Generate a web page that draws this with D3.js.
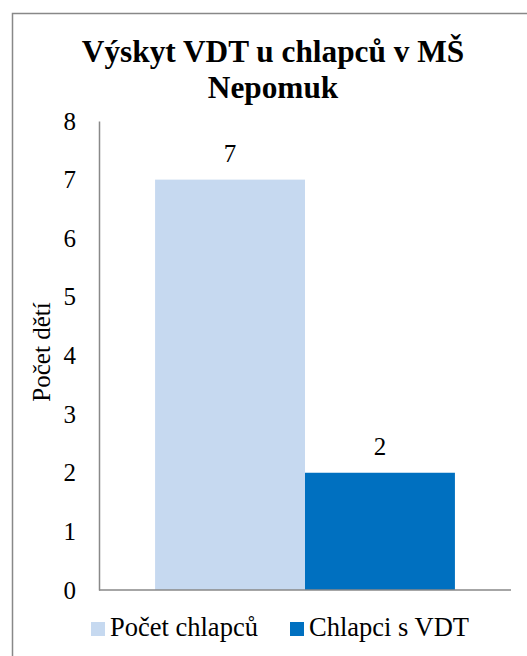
<!DOCTYPE html>
<html>
<head>
<meta charset="utf-8">
<script src="https://cdn.jsdelivr.net/npm/d3@7"></script>
</head>
<body style="margin:0;background:#fff">
<div id="chart"></div>
<script>
(function (d3) {
  'use strict';

  // data
  const titleLines = ['Výskyt VDT u chlapců v MŠ', 'Nepomuk'];
  const categories = [''];
  const seriesNames = ['Počet chlapců', 'Chlapci s VDT'];
  const seriesValues = [[7], [2]];
  const seriesColors = ['#c6d9f0', '#0070c0'];
  const yTicks = [0, 1, 2, 3, 4, 5, 6, 7, 8];
  const yTitle = 'Počet dětí';

  var width = 527,
      height = 656,
      left = 99, right = 511,
      top = 121, bottom = 590,
      serif = '"Liberation Serif"';

  var svg = d3.select('#chart').append('svg')
      .attr('width', width)
      .attr('height', height)
      .style('display', 'block')
      .style('font-family', serif);

  // outer chart border (runs past the window)
  svg.append('rect')
      .attr('x', 12.5).attr('y', 13.5)
      .attr('width', 540).attr('height', 680)
      .attr('fill', '#fff')
      .attr('stroke', '#888')
      .attr('stroke-width', 1.5);

  svg.append('g').selectAll('text').data(titleLines).enter()
    .append('text')
      .attr('x', 273)
      .attr('y', function (d, i) { return 62 + i * 36; })
      .attr('text-anchor', 'middle')
      .attr('font-size', 31.3)
      .attr('font-weight', 'bold')
      .style('font-family', serif)
      .text(function (d) { return d; });

  var y = d3.scaleLinear().domain([0, 8]).range([bottom, top]);
  var x0 = d3.scaleBand().domain(categories).range([left, right]).paddingInner(0).paddingOuter(0.187);
  var x1 = d3.scaleBand().domain(seriesNames).range([0, x0.bandwidth()]);

  // y axis
  var yAxis = svg.append('g')
      .attr('transform', 'translate(' + left + ',0)')
      .call(d3.axisLeft(y).tickValues(yTicks).tickSize(0).tickPadding(23));
  yAxis.select('.domain').attr('stroke', '#898989').attr('stroke-width', 1.5);
  yAxis.selectAll('text')
      .attr('font-size', 25)
      .attr('fill', '#000')
      .style('font-family', serif);

  svg.append('text')
      .attr('transform', 'translate(50,352) rotate(-90)')
      .attr('text-anchor', 'middle')
      .attr('font-size', 25)
      .style('font-family', serif)
      .text(yTitle);

  // bars
  var groups = svg.append('g').selectAll('g')
      .data(categories).enter()
    .append('g')
      .attr('transform', function (d) { return 'translate(' + x0(d) + ',0)'; });

  groups.selectAll('rect')
      .data(function (d, ci) {
        return seriesNames.map(function (s, si) { return { s: s, v: seriesValues[si][ci], c: seriesColors[si] }; });
      }).enter()
    .append('rect')
      .attr('x', function (d) { return x1(d.s); })
      .attr('y', function (d) { return y(d.v); })
      .attr('width', x1.bandwidth())
      .attr('height', function (d) { return bottom - y(d.v); })
      .attr('fill', function (d) { return d.c; });

  groups.selectAll('text.val')
      .data(function (d, ci) {
        return seriesNames.map(function (s, si) { return { s: s, v: seriesValues[si][ci] }; });
      }).enter()
    .append('text')
      .attr('class', 'val')
      .attr('x', function (d) { return x1(d.s) + x1.bandwidth() / 2; })
      .attr('y', function (d) { return y(d.v) - 18; })
      .attr('text-anchor', 'middle')
      .attr('font-size', 25)
      .style('font-family', serif)
      .text(function (d) { return d.v; });

  // x baseline
  svg.append('line')
      .attr('x1', left).attr('x2', right)
      .attr('y1', bottom).attr('y2', bottom)
      .attr('stroke', '#898989')
      .attr('stroke-width', 1.5);

  // legend
  var legendX = [91, 290];
  var legend = svg.append('g').selectAll('g')
      .data(seriesNames).enter()
    .append('g')
      .attr('transform', function (d, i) { return 'translate(' + legendX[i] + ',622)'; });
  legend.append('rect')
      .attr('width', 14).attr('height', 14)
      .attr('fill', function (d, i) { return seriesColors[i]; });
  legend.append('text')
      .attr('x', 19).attr('y', 14)
      .attr('font-size', 26.5)
      .style('font-family', serif)
      .text(function (d) { return d; });
})(d3);
</script>
</body>
</html>
